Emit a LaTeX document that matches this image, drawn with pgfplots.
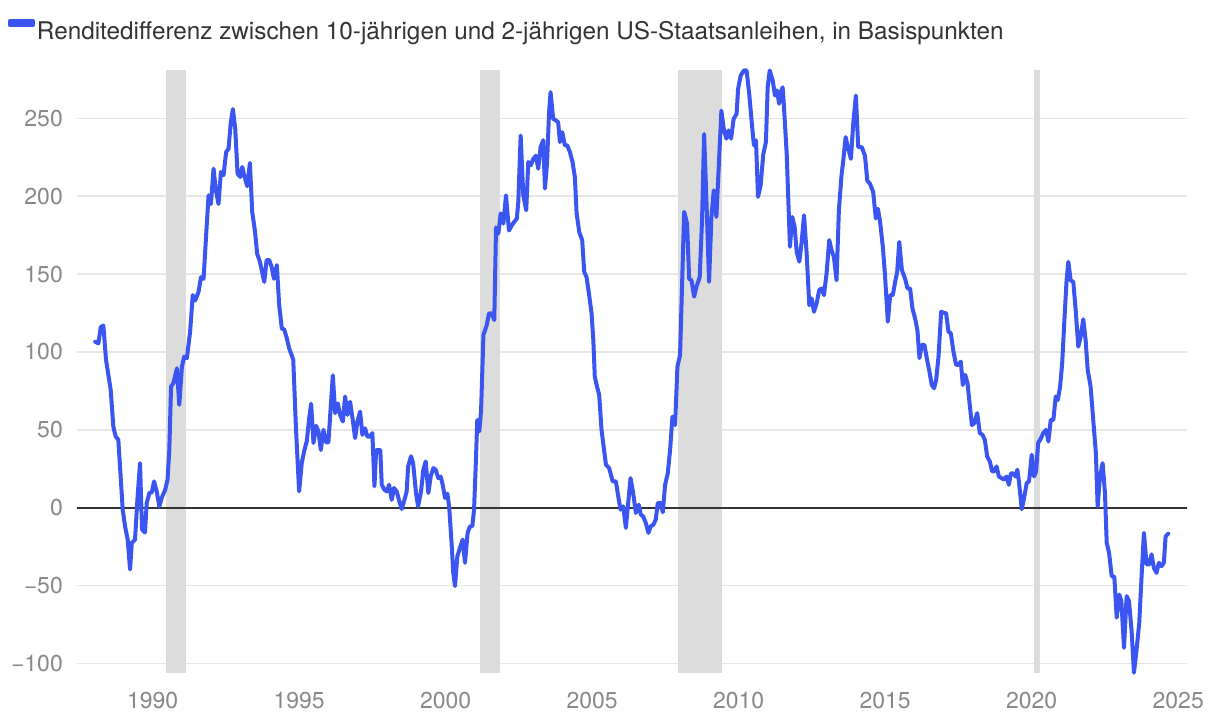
\documentclass[border=0pt]{standalone}
\usepackage{fontspec}
\setmainfont{TeX Gyre Heros}
\usepackage{pgfplots}
\pgfplotsset{compat=1.18}
\definecolor{lineblue}{HTML}{3B56F0}
\definecolor{recgray}{HTML}{DCDCDC}
\definecolor{gridgray}{HTML}{E6E6E6}
\definecolor{tickgray}{HTML}{888888}
\definecolor{textdark}{HTML}{333333}
\begin{document}
\begin{tikzpicture}
\useasboundingbox (-77pt,-47pt) rectangle (1143pt,673pt);
\begin{axis}[
  at={(0pt,0pt)}, anchor=south west,
  scale only axis, width=1110pt, height=603pt,
  xmin=1987.42, xmax=2025.30, ymin=-106.2, ymax=281.1,
  clip=false,
  axis line style={draw=none},
  major tick length=0pt,
  xtick={1990,1995,2000,2005,2010,2015,2020,2025},
  xticklabels={1990,1995,2000,2005,2010,2015,2020,2025},
  ytick={-100,-50,0,50,100,150,200,250},
  yticklabels={−100,−50,0,50,100,150,200,250},
  ymajorgrids, grid style={gridgray, line width=1.6pt},
  xticklabel style={font=\fontsize{23}{27}\selectfont, text=tickgray, anchor=base, yshift=-35pt, inner sep=0pt},
  yticklabel style={font=\fontsize{23}{27}\selectfont, text=tickgray, anchor=east, inner sep=0pt, xshift=-14pt},
  legend style={at={(axis description cs:0,1)}, anchor=west, xshift=-69pt, yshift=40pt,
    draw=none, fill=none, inner sep=0pt, outer sep=0pt,
    nodes={inner xsep=2pt, inner ysep=0pt, text=textdark, font=\fontsize{24.3}{28}\selectfont}},
  legend cell align=left,
  legend image code/.code={\fill[lineblue] (0pt,6pt) rectangle (23pt,10.2pt);},
]
% recession bands
\addplot[fill=recgray, draw=none, forget plot] coordinates {(1990.46,-106.2) (1990.46,281.1) (1991.13,281.1) (1991.13,-106.2)};
\addplot[fill=recgray, draw=none, forget plot] coordinates {(2001.17,-106.2) (2001.17,281.1) (2001.86,281.1) (2001.86,-106.2)};
\addplot[fill=recgray, draw=none, forget plot] coordinates {(2007.94,-106.2) (2007.94,281.1) (2009.42,281.1) (2009.42,-106.2)};
\addplot[fill=recgray, draw=none, forget plot] coordinates {(2020.09,-106.2) (2020.09,281.1) (2020.28,281.1) (2020.28,-106.2)};
% zero line
\addplot[black!80, line width=1.8pt, forget plot] coordinates {(1987.42,0) (2025.30,0)};
% spread
\addplot[lineblue, line width=4pt, line join=round, line cap=round] table {
x y
1988.04 106.6
1988.15 105.5
1988.23 116
1988.32 117
1988.41 95
1988.57 75.6
1988.66 52
1988.74 45.7
1988.83 43.6
1988.91 20
1988.98 -1.3
1989.06 -12
1989.15 -20.5
1989.23 -39.7
1989.29 -22.6
1989.40 -20.5
1989.48 5
1989.57 28.6
1989.64 -14
1989.74 -16
1989.80 3
1989.89 9.4
1989.97 9.8
1990.05 16.9
1990.14 10.4
1990.23 0.8
1990.31 6.2
1990.43 11.5
1990.51 18
1990.57 37
1990.63 77.8
1990.71 80
1990.83 89.5
1990.91 66
1991.00 90.6
1991.08 97
1991.17 96
1991.28 113
1991.37 136.5
1991.45 133
1991.57 138.7
1991.65 148
1991.74 147
1991.83 176
1991.91 200.6
1991.99 195
1992.08 217.7
1992.16 203.8
1992.25 195
1992.33 215.6
1992.42 213.5
1992.51 228.4
1992.59 230.5
1992.67 247.6
1992.74 256
1992.82 243.4
1992.90 214.5
1992.99 212.4
1993.06 218.8
1993.14 212.4
1993.23 206.4
1993.32 221.4
1993.40 190
1993.49 178
1993.57 163
1993.66 158
1993.81 145
1993.89 159
1993.98 159
1994.06 154.7
1994.14 147
1994.24 155.8
1994.32 130
1994.41 115
1994.49 114.5
1994.58 108.8
1994.66 102.4
1994.80 95
1994.89 52
1995.00 10.4
1995.09 28.6
1995.18 37
1995.26 42.5
1995.35 58.5
1995.41 66.7
1995.49 41.5
1995.58 52.6
1995.66 49
1995.74 37
1995.83 50
1995.92 41.9
1996.00 41.9
1996.08 65
1996.15 85
1996.23 60.7
1996.32 67
1996.40 59.6
1996.49 55.3
1996.57 71.4
1996.65 59.6
1996.74 68
1996.83 56.4
1996.91 44.7
1996.99 55.3
1997.08 61.7
1997.16 46.8
1997.25 51
1997.33 45.7
1997.42 45.7
1997.50 47.9
1997.57 13.7
1997.63 37
1997.71 37
1997.77 37
1997.82 14.7
1997.91 11.5
1997.99 10.4
1998.07 14.7
1998.16 5
1998.24 12.6
1998.33 10.4
1998.42 4
1998.50 -0.9
1998.59 4.7
1998.67 10.4
1998.72 26.5
1998.82 33
1998.89 28.6
1998.99 9.4
1999.06 0.8
1999.16 10.4
1999.24 24.4
1999.32 29.7
1999.41 9.4
1999.49 20
1999.58 25.4
1999.66 24.4
1999.75 19
1999.83 20
1999.90 14.7
1999.98 6.2
2000.06 9
2000.12 0.8
2000.21 -24.8
2000.26 -41.9
2000.32 -50.4
2000.40 -31.2
2000.49 -25.8
2000.58 -20.5
2000.66 -35.4
2000.75 -16.2
2000.83 -12
2000.91 -12
2000.97 -1.3
2001.03 28.6
2001.08 56.4
2001.15 49
2001.21 62.8
2001.29 111
2001.40 117
2001.48 124.8
2001.57 124.8
2001.66 120.5
2001.72 180
2001.80 176
2001.88 189
2001.97 182.5
2002.06 200.6
2002.16 178
2002.26 181.4
2002.34 183.5
2002.43 185.7
2002.48 196.4
2002.56 239
2002.65 200.6
2002.75 191
2002.82 222
2002.91 220
2002.99 224
2003.08 226
2003.16 217.7
2003.24 231.6
2003.33 236
2003.39 205
2003.46 221
2003.53 254
2003.58 266.9
2003.67 249.8
2003.76 248.7
2003.84 247.6
2003.90 234.8
2003.98 241.2
2004.07 232.7
2004.15 232.7
2004.24 228.4
2004.33 222
2004.41 212.4
2004.47 189
2004.56 177
2004.66 171.8
2004.73 151.5
2004.81 148
2004.89 137.6
2004.98 124.8
2005.04 107.7
2005.09 84
2005.15 79
2005.24 72.4
2005.32 50
2005.47 27.6
2005.58 25.4
2005.70 16.9
2005.81 16.9
2005.89 7.2
2005.97 -1.3
2006.06 0.8
2006.15 -13
2006.23 3
2006.31 19
2006.40 9.4
2006.49 -3.4
2006.59 1.9
2006.66 -4.5
2006.74 -5.6
2006.83 -9.8
2006.92 -16.2
2007.00 -12
2007.09 -10.9
2007.17 -7.7
2007.24 3
2007.34 3
2007.41 -3
2007.49 14.7
2007.58 22
2007.66 37
2007.74 58.5
2007.83 53
2007.91 90.6
2008.00 98
2008.14 190
2008.24 182.5
2008.31 147
2008.39 146
2008.48 135.5
2008.56 141.9
2008.67 148
2008.75 184.6
2008.82 240
2008.90 197.4
2008.99 145
2009.07 186.7
2009.15 203.8
2009.24 186.7
2009.33 223
2009.41 255
2009.49 243.4
2009.58 237
2009.66 242.3
2009.74 237
2009.83 249.8
2009.93 253
2009.98 269
2010.07 277.6
2010.18 280.8
2010.27 280.8
2010.36 265.8
2010.44 248.7
2010.52 232.7
2010.59 235.9
2010.66 199.6
2010.75 207
2010.84 227
2010.93 234.8
2010.99 270
2011.06 280.8
2011.16 274.4
2011.24 264.7
2011.31 268
2011.38 259.4
2011.44 266.9
2011.50 270
2011.54 259.4
2011.64 227
2011.75 167.5
2011.83 186.7
2011.91 180.3
2011.98 164.3
2012.07 158
2012.15 170.7
2012.23 187.8
2012.32 163.3
2012.41 130
2012.49 134.4
2012.57 125.8
2012.66 131.2
2012.75 139.7
2012.83 140.8
2012.91 136.5
2013.00 150.4
2013.09 171.8
2013.17 165.4
2013.25 161
2013.34 146
2013.42 191
2013.51 213.5
2013.57 223
2013.65 238
2013.74 230.6
2013.83 224
2013.91 246.6
2014.00 264.7
2014.08 231.6
2014.20 231.6
2014.31 226
2014.39 210
2014.48 208
2014.59 202.8
2014.68 185.7
2014.75 192
2014.82 184.6
2014.92 167.5
2014.99 150.4
2015.09 119.4
2015.17 136.5
2015.26 136.5
2015.34 145
2015.41 151.5
2015.48 170.7
2015.57 152.6
2015.68 147
2015.76 140.8
2015.85 140.8
2015.93 128
2016.02 121.6
2016.10 114
2016.17 96
2016.25 104.5
2016.34 104.5
2016.42 96
2016.51 87.4
2016.59 78.8
2016.67 76.7
2016.74 82
2016.82 97
2016.91 125.8
2016.99 125.2
2017.08 124.8
2017.16 113
2017.24 112
2017.33 100.2
2017.42 91.7
2017.50 91.7
2017.58 93.8
2017.65 78.8
2017.73 85.3
2017.81 80
2017.88 67
2017.96 53
2018.04 54.3
2018.14 60.7
2018.23 47.9
2018.32 46.8
2018.40 43.6
2018.48 33
2018.57 29.7
2018.65 23.3
2018.72 23.3
2018.80 26.5
2018.88 20
2018.97 19
2019.05 18
2019.14 20
2019.22 14.7
2019.29 22
2019.37 22
2019.45 20
2019.51 24.4
2019.57 15.8
2019.66 -1
2019.74 6.2
2019.83 15.8
2019.91 16.9
2020.00 34
2020.08 20
2020.15 23.3
2020.22 41.5
2020.32 44.7
2020.39 47.9
2020.49 50
2020.57 42.5
2020.65 56.4
2020.74 56.4
2020.82 71.4
2020.89 69.2
2020.97 77.8
2021.04 92.7
2021.11 118.4
2021.19 146
2021.25 157.9
2021.33 146
2021.42 145
2021.50 126.9
2021.59 103.4
2021.67 109.8
2021.76 121
2021.84 107.7
2021.91 88.5
2022.01 77.8
2022.10 56.4
2022.19 35
2022.25 0.8
2022.33 20
2022.42 28.6
2022.50 9.4
2022.56 -22.6
2022.64 -29
2022.73 -44
2022.82 -44.4
2022.90 -70.7
2022.99 -55.8
2023.06 -60
2023.15 -90
2023.24 -56.8
2023.32 -60
2023.41 -79.3
2023.49 -106
2023.58 -91
2023.67 -74
2023.75 -44
2023.83 -16.2
2023.92 -36.5
2024.01 -36.5
2024.09 -30
2024.17 -38.7
2024.26 -41.9
2024.34 -35.4
2024.43 -37.6
2024.51 -35.4
2024.57 -18.4
2024.66 -16.7
};
\addlegendentry{Renditedifferenz zwischen 10-jährigen und 2-jährigen US-Staatsanleihen, in Basispunkten}
\end{axis}
\end{tikzpicture}
\end{document}
